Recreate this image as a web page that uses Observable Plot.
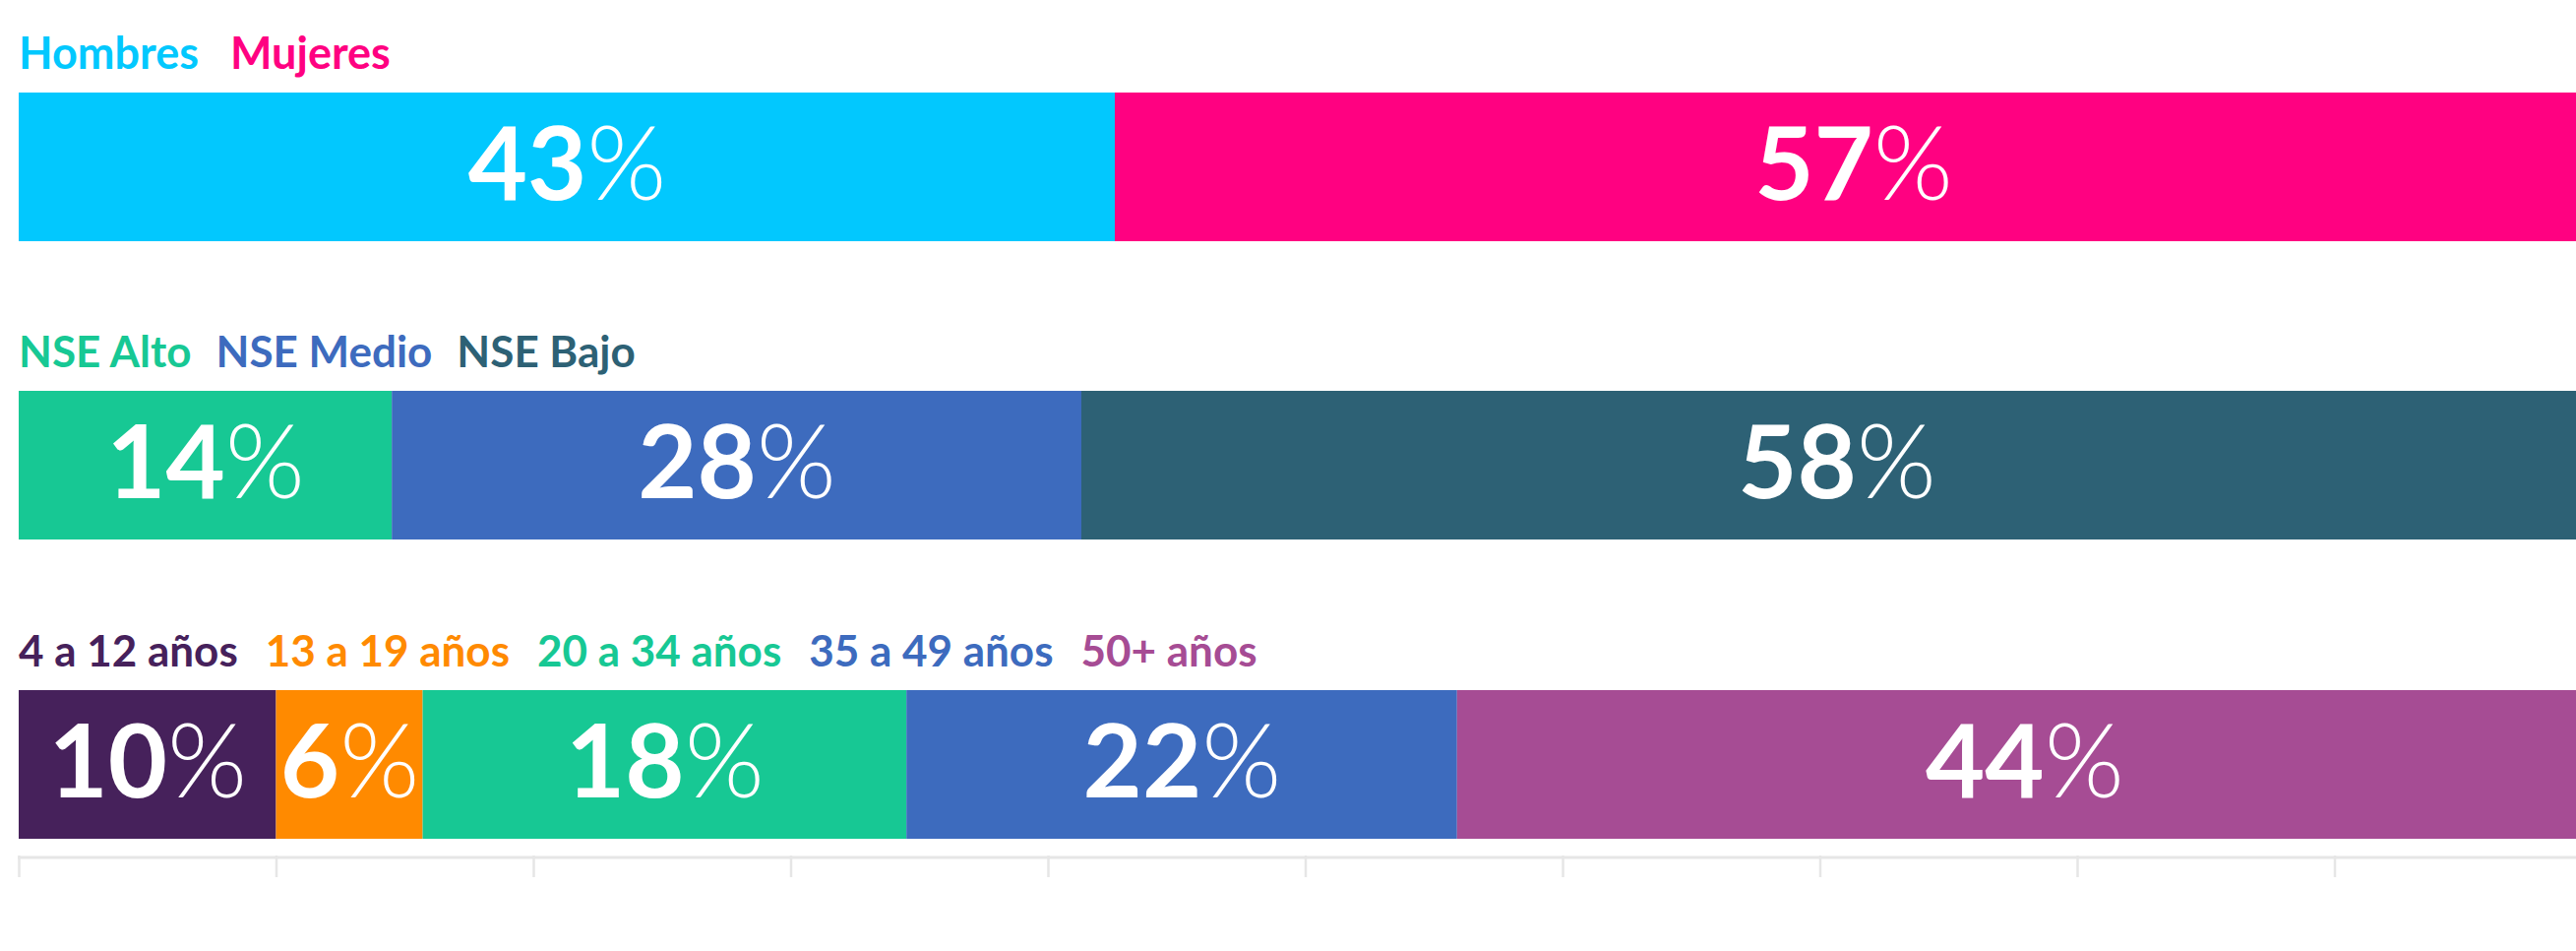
<!DOCTYPE html>
<html lang="es">
<head>
<meta charset="utf-8">
<script src="https://cdn.jsdelivr.net/npm/d3@7"></script>
<script src="https://cdn.jsdelivr.net/npm/@observablehq/plot@0.6"></script>
<style>
  html, body { margin: 0; padding: 0; background: #fff; width: 2618px; height: 966px; overflow: hidden; }
  .legend { display: flex; align-items: flex-end; gap: 32px; box-sizing: border-box; padding-left: 19px; padding-bottom: 19px;
            font-family: Lato, sans-serif; font-weight: 700; font-size: 44px; line-height: 44px; }
  .legend span { white-space: nowrap; }
  svg { display: block; }
</style>
</head>
<body>
<div id="chart"></div>
<script>
// Row 1: sexo
const genderCategories = ["Hombres", "Mujeres"];
const genderShares = [42.6, 57.4];
const genderLabels = [43, 57];
const genderColors = ["#02C8FE", "#FF0181"];

// Row 2: nivel socioeconómico
const nseCategories = ["NSE Alto", "NSE Medio", "NSE Bajo"];
const nseShares = [14.5, 26.8, 58.7];
const nseLabels = [14, 28, 58];
const nseColors = ["#17C894", "#3D6BBE", "#2D6175"];

// Row 3: edad
const ageCategories = ["4 a 12 años", "13 a 19 años", "20 a 34 años", "35 a 49 años", "50+ años"];
const ageShares = [10.0, 5.7, 18.8, 21.4, 44.1];
const ageLabels = [10, 6, 18, 22, 44];
const ageColors = ["#46215B", "#FF8A00", "#17C894", "#3D6BBE", "#A64C94"];

// bottom axis ticks (no labels)
const axisTicks = [0, 10, 20, 30, 40, 50, 60, 70, 80, 90, 100];

const root = document.getElementById("chart");

function legend(categories, colors, height, gap, fontSize) {
  const div = document.createElement("div");
  div.className = "legend";
  div.style.height = height + "px";
  div.style.gap = gap + "px";
  div.style.fontSize = fontSize + "px";
  categories.forEach((c, i) => {
    const s = document.createElement("span");
    s.textContent = c;
    s.style.color = colors[i];
    div.appendChild(s);
  });
  return div;
}

function barRow(categories, shares, labels, colors, withAxis) {
  const data = categories.map((c, i) => ({category: c, share: shares[i], label: labels[i] + "%"}));
  const gap = withAxis ? 17 : 0;
  const marks = [
    Plot.barX(data, Plot.stackX({x: "share", fill: "category", insetBottom: gap})),
    Plot.text(data, Plot.stackX({x: "share", text: "label", fill: "white", fontSize: 104, dy: -gap / 2}))
  ];
  if (withAxis) {
    marks.push(Plot.frame({anchor: "bottom", stroke: "#e6e6e6", strokeWidth: 3, dy: 1.5}));
    marks.push(Plot.axisX({ticks: axisTicks, tickSize: 22, tickFormat: () => "", label: null, stroke: "#e6e6e6", strokeWidth: 2.5}));
  }
  const svg = Plot.plot({
    width: 2618,
    height: withAxis ? 151 + gap + 30 : 151,
    marginTop: 0,
    marginBottom: withAxis ? 30 : 0,
    marginLeft: 19,
    marginRight: -16,
    x: {domain: [0, 100], axis: withAxis ? undefined : null, label: null},
    color: {domain: categories, range: colors},
    style: {fontFamily: "Lato, sans-serif", background: "white"},
    marks
  });
  d3.select(svg).selectAll('g[aria-label="text"] text').each(function () {
    const t = this.textContent;
    const num = t.replace("%", "");
    this.textContent = "";
    d3.select(this).append("tspan").attr("font-weight", 700).text(num);
    d3.select(this).append("tspan").attr("font-weight", 300).text("%");
  });
  return svg;
}

root.appendChild(legend(genderCategories, genderColors, 94, 32, 45));
root.appendChild(barRow(genderCategories, genderShares, genderLabels, genderColors, false));
root.appendChild(legend(nseCategories, nseColors, 152, 25, 44));
root.appendChild(barRow(nseCategories, nseShares, nseLabels, nseColors, false));
root.appendChild(legend(ageCategories, ageColors, 153, 28, 44));
root.appendChild(barRow(ageCategories, ageShares, ageLabels, ageColors, true));
</script>
</body>
</html>
